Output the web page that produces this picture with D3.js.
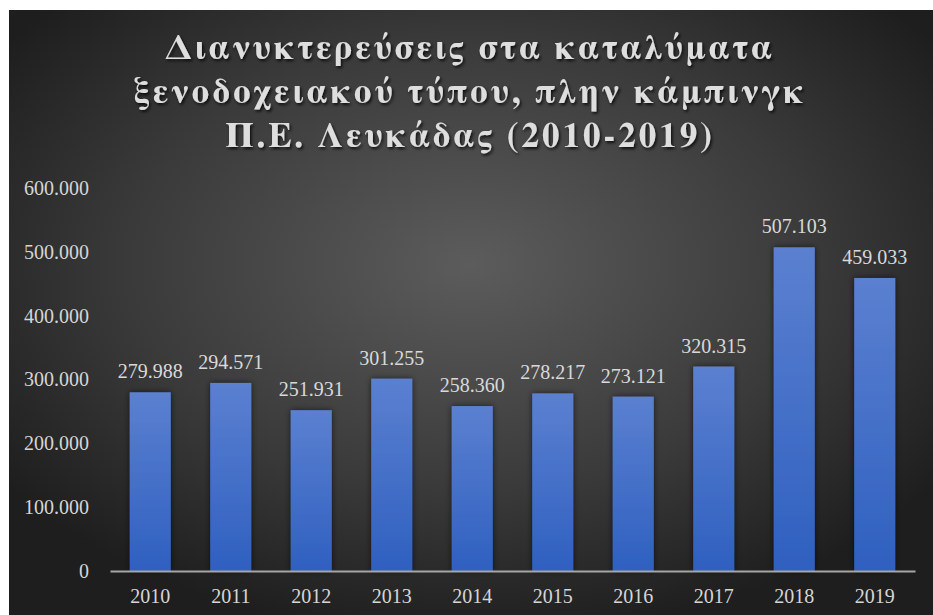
<!DOCTYPE html>
<html><head><meta charset="utf-8">
<script src="https://cdn.jsdelivr.net/npm/d3@7/dist/d3.min.js"></script>
<style>html,body{margin:0;padding:0;background:#fff;overflow:hidden}</style>
</head><body>
<svg id="c" width="933" height="615"></svg>
<script>
const years = ["2010","2011","2012","2013","2014","2015","2016","2017","2018","2019"];
const values = [279988,294571,251931,301255,258360,278217,273121,320315,507103,459033];
const yTicks = [0,100000,200000,300000,400000,500000,600000];
const titleLines = ["Διανυκτερεύσεις στα καταλύματα","ξενοδοχειακού τύπου, πλην κάμπινγκ","Π.Ε. Λευκάδας (2010-2019)"];

const SERIF = "Liberation Serif";
const fmt = v => v === 0 ? "0" : d3.format(",")(v).replace(/,/g, ".");
const svg = d3.select("#c");
const defs = svg.append("defs");
const bg = defs.append("radialGradient").attr("id","bg").attr("cx","50%").attr("cy","42%").attr("r","62%");
bg.append("stop").attr("offset","0%").attr("stop-color","#5c5c5c");
bg.append("stop").attr("offset","60%").attr("stop-color","#3a3a3a");
bg.append("stop").attr("offset","100%").attr("stop-color","#1e1e1e");
const bar = defs.append("linearGradient").attr("id","bar").attr("x1",0).attr("y1",0).attr("x2",0).attr("y2",1);
bar.append("stop").attr("offset","0%").attr("stop-color","#5b80d0");
bar.append("stop").attr("offset","100%").attr("stop-color","#2f60c0");
const sh = defs.append("filter").attr("id","sh").attr("x","-30%").attr("y","-10%").attr("width","160%").attr("height","120%");
sh.append("feDropShadow").attr("dx",0).attr("dy",0).attr("stdDeviation",3).attr("flood-color","#000").attr("flood-opacity",0.6);
const tsh = defs.append("filter").attr("id","tsh").attr("x","-5%").attr("y","-20%").attr("width","110%").attr("height","140%");
tsh.append("feDropShadow").attr("dx",1.5).attr("dy",2).attr("stdDeviation",1.5).attr("flood-color","#000").attr("flood-opacity",0.8);

svg.append("rect").attr("x",9).attr("y",10).attr("width",924).attr("height",605).attr("fill","url(#bg)");

const x = d3.scaleBand().domain(years).range([110,915]).paddingInner(0.49).paddingOuter(0.245);
const y = d3.scaleLinear().domain([0,600000]).range([571,188]);

// title
const t = svg.append("text").attr("text-anchor","middle").attr("font-family","FreeSerif, 'Liberation Serif', serif")
  .attr("font-weight","bold").attr("font-size",35).attr("letter-spacing",3).attr("fill","#dedede").attr("filter","url(#tsh)");
titleLines.forEach((l,i)=> t.append("tspan").attr("x",470).attr("y",59+i*44).text(l));

// y axis labels
const ya = svg.append("g").attr("transform","translate(89,0)")
  .call(d3.axisLeft(y).tickValues(yTicks).tickSize(0).tickPadding(0).tickFormat(fmt));
ya.attr("font-family",SERIF);
ya.select(".domain").remove();
ya.selectAll("text").attr("font-family",SERIF).attr("font-size",20).attr("fill","#d6d6d6");

// bars
svg.append("g").selectAll("rect").data(values).join("rect")
  .attr("x",(d,i)=>x(years[i])).attr("width",x.bandwidth())
  .attr("y",d=>y(d)).attr("height",d=>y(0)-y(d))
  .attr("fill","url(#bar)").attr("filter","url(#sh)");

// x axis
const xa = svg.append("g").attr("transform","translate(0,571)")
  .call(d3.axisBottom(x).tickSize(0).tickPadding(18));
xa.attr("font-family",SERIF);
xa.select(".domain").attr("stroke","#a6a6a6").attr("stroke-width",2.2);
xa.selectAll("text").attr("font-family",SERIF).attr("font-size",20).attr("fill","#d6d6d6");

// value labels
svg.append("g").selectAll("text").data(values).join("text")
  .attr("x",(d,i)=>x(years[i])+x.bandwidth()/2).attr("y",d=>y(d)-14)
  .attr("text-anchor","middle").attr("font-family",SERIF).attr("font-size",20)
  .attr("fill","#d9d9d9").text(fmt);
</script>
</body></html>
